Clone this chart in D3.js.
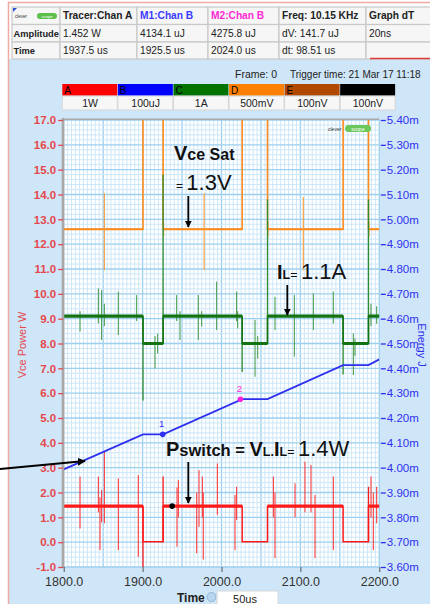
<!DOCTYPE html>
<html><head><meta charset="utf-8">
<script src="https://cdn.jsdelivr.net/npm/d3@7"></script>
<style>body{margin:0;background:#fff}svg{display:block}text{font-family:"Liberation Sans",Arial,sans-serif}</style>
</head><body><svg id="c" width="430" height="604"></svg>
<script>
// ---------------- DATA ----------------
const tableHeader = ["", "Tracer:Chan A", "M1:Chan B", "M2:Chan B", "Freq: 10.15 KHz", "Graph dT"];
const tableAmplitude = ["Amplitude", "1.452 W", "4134.1 uJ", "4275.8 uJ", "dV: 141.7 uJ", "20ns"];
const tableTime = ["Time", "1937.5 us", "1925.5 us", "2024.0 us", "dt:  98.51 us", ""];
const frameText = "Frame: 0";
const triggerText = "Trigger time: 21 Mar 17 11:18";
const channelLetters = ["A", "B", "C", "D", "E", "F"];
const channelScales = ["1W", "100uJ", "1A", "500mV", "100nV", "100nV"];

const timeDomain = [1800, 2200];
const timeTicks = [1800, 1900, 2000, 2100, 2200];
const powerDomain = [-1, 17];
const powerTicks = [-1,0,1,2,3,4,5,6,7,8,9,10,11,12,13,14,15,16,17];
const energyDomain = [3.6, 5.4];
const energyTicks = [3.6,3.7,3.8,3.9,4.0,4.1,4.2,4.3,4.4,4.5,4.6,4.7,4.8,4.9,5.0,5.1,5.2,5.3,5.4];

// switching edges (us)
const switchOff = [1900.5, 2026.2, 2154.1];
const switchOn  = [1926.0, 2058.3, 2186.3];

// levels (left-axis units)
const vceLevels = {on: 12.6, off: 18};
const ilLevels  = {on: 9.1,  off: 8.0};
const powLevels = {on: 1.45, off: 0.02};

// spikes [time, high, low]
const vceSpikes = [[1851.5,14.05,10.95],[1978.0,14.05,10.95],[2103.7,13.9,10.95],[1926.6,12.9,12.3],[2058.9,12.9,12.3],[2186.9,12.9,12.3]];
const ilEdgeSpikes = [[1900.5,9.1,5.7],[1926.0,14.8,8.0],[2026.2,9.1,6.85],[2058.3,13.8,8.0],[2154.1,9.1,6.75],[2186.3,13.8,8.0]];
const ilSpikes = [[1820.7,9.3,8.48],[1843.9,10.22,8.81],[1848.1,10.15,8.14],[1851.5,9.6,8.7],[1869.2,10.09,8.34],[1892.5,9.95,8.9],
  [1915.7,8.3,7.0],[1919.1,8.4,7.6],[1943.2,9.95,8.9],[1947.4,9.3,8.14],[1970.6,9.95,8.14],[1974.9,9.3,8.68],[1993.9,10.49,8.54],
  [2019.2,10.09,8.9],[2020.5,9.3,8.61],[2042.5,8.95,6.66],[2045.9,8.3,7.4],[2067.8,9.88,8.54],[2092.3,9.95,7.47],[2116.4,10.02,8.54],
  [2141.7,10.09,8.81],[2167.1,8.41,6.73],[2169.2,8.2,7.5],[2189.5,9.6,8.7],[2196.7,9.5,8.8]];
const powEdgeSpikes = [[1900.5,1.45,-1.0],[1926.0,2.64,0.02],[2186.3,2.23,0.02]];
const powSpikes = [[1820.7,2.64,0.55],[1843.9,2.64,1.2],[1846.0,1.8,-0.32],[1848.1,2.10,0.8],[1851.5,3.64,0.76],[1869.2,2.57,-0.32],
  [1894.5,2.70,-0.59],[1943.6,2.2,-0.18],[1945.3,2.5,1.0],[1968.6,2.0,-0.45],[1971.5,2.90,0.62],[1975.7,2.64,1.0],[1976.9,2.0,-0.7],
  [1994.7,3.17,1.1],[2017.1,1.9,-0.32],[2019.2,2.23,0.9],[2065.7,2.64,1.0],[2067.8,2.0,-0.64],[2093.2,2.37,1.0],[2105.8,3.24,1.2],
  [2113.4,3.11,1.2],[2118.5,1.9,-0.64],[2141.7,2.64,-0.32],[2189.5,2.64,1.0],[2192.4,2.0,-0.32],[2196.7,2.23,0.76]];

// energy (mJ, right axis)
const energyTime = [1800, 1900.5, 1926.0, 2026.2, 2058.3, 2154.1, 2186.3, 2200];
const energyMJ   = [3.993, 4.134, 4.134, 4.276, 4.276, 4.413, 4.413, 4.436];
const marker1 = {t: 1925.5, v: 4.1341, label: "1"};
const marker2 = {t: 2024.0, v: 4.2758, label: "2"};
const tracer  = {t: 1937.5, v: 1.452};

// ---------------- DRAW ----------------
const svg = d3.select("#c");
const W = 430, H = 604;
const bg = "#cfe6f8";
svg.append("rect").attr("width", W).attr("height", H).attr("fill", "#fff");
svg.append("rect").attr("x", 8).attr("y", 59).attr("width", W - 8).attr("height", H - 59).attr("fill", bg);
svg.append("path").attr("d", "M8.5,604V2.5H430").attr("fill", "none").attr("stroke", "#f0aaa2").attr("stroke-width", 1.5);

// table
const colX = [12, 60, 137, 208, 279, 366, 445];
const rowY = [7, 24.5, 42, 59];
const rows = [tableHeader, tableAmplitude, tableTime];
const headColors = ["#222", "#222", "#3b3bff", "#ff2ad4", "#222", "#222"];
const tg = svg.append("g");
rows.forEach((r, ri) => {
  r.forEach((txt, ci) => {
    tg.append("rect").attr("x", colX[ci]).attr("y", rowY[ri]).attr("width", colX[ci+1] - colX[ci]).attr("height", rowY[ri+1] - rowY[ri])
      .attr("fill", "#f6f6f6").attr("stroke", "#c9c9c9").attr("stroke-width", 1.2);
    if (txt) tg.append("text").attr("x", colX[ci] + (ci === 0 ? 1.5 : 3)).attr("y", (rowY[ri] + rowY[ri+1]) / 2 + 3.6)
      .attr("font-size", ci === 0 ? 9.3 : 10.2).attr("font-weight", (ri === 0 || ci === 0) ? "bold" : "normal")
      .attr("fill", ri === 0 ? headColors[ci] : "#222").text(txt);
  });
});
// logo in first cell
tg.append("text").attr("x", 15).attr("y", 17.5).attr("font-size", 4.5).attr("fill", "#333").text("clever");
tg.append("rect").attr("x", 37).attr("y", 13).attr("width", 20).attr("height", 6).attr("rx", 3).attr("fill", "#5cbf4a");
tg.append("text").attr("x", 47).attr("y", 17.6).attr("font-size", 4.2).attr("fill", "#fff").attr("text-anchor", "middle").text("scope");
tg.append("path").attr("d", "M13,8h4l-4,4z").attr("fill", "#3050d0");
svg.append("line").attr("x1", 370).attr("x2", 430).attr("y1", 58.5).attr("y2", 58.5).attr("stroke", "#e03c3c").attr("stroke-width", 1.4);

// frame text
svg.append("text").attr("x", 235).attr("y", 78).attr("font-size", 10.5).attr("fill", "#222").text(frameText);
svg.append("text").attr("x", 290).attr("y", 78).attr("font-size", 10).attr("fill", "#222").text(triggerText);

// channel bar
const chColors = ["#ff0000", "#0000ff", "#007200", "#ff8000", "#b04800", "#000000"];
const chX0 = 62.3, chW = 55.57;
channelLetters.forEach((l, i) => {
  const bx = chX0 + i * chW;
  svg.append("rect").attr("x", bx).attr("y", 84).attr("width", chW - 0.6).attr("height", 11.7).attr("fill", chColors[i]);
  svg.append("text").attr("x", bx + 2).attr("y", 93.5).attr("font-size", 10).attr("fill", "#000").text(l);
  svg.append("rect").attr("x", bx).attr("y", 96).attr("width", chW - 0.6).attr("height", 14).attr("fill", "#f7f7f7").attr("stroke", "#d6d6d6");
  svg.append("text").attr("x", bx + chW / 2).attr("y", 107).attr("font-size", 10.5).attr("text-anchor", "middle").attr("fill", "#222").text(channelScales[i]);
});

// scales
const px0 = 63.7, px1 = 379.3, py0 = 120, py1 = 567;
const x = d3.scaleLinear(timeDomain, [px0, px1]);
const yL = d3.scaleLinear(powerDomain, [py1, py0]);
const yR = d3.scaleLinear(energyDomain, [py1, py0]);

// plot background + grid
svg.append("rect").attr("x", px0).attr("y", py0).attr("width", px1 - px0).attr("height", py1 - py0).attr("fill", "#fff");
const grid = svg.append("g");
d3.range(timeDomain[0], timeDomain[1] + 0.01, 5).forEach(t => {
  const major = Math.abs(t % 50) < 0.01;
  grid.append("line").attr("x1", x(t)).attr("x2", x(t)).attr("y1", py0).attr("y2", py1)
    .attr("stroke", major ? "#9ccff0" : "#c8e4f7").attr("stroke-width", major ? 1.3 : 0.9);
});
d3.range(0, 90.01, 1).forEach(k => {
  const v = powerDomain[0] + k * 0.2;
  const major = k % 5 === 0;
  grid.append("line").attr("x1", px0).attr("x2", px1).attr("y1", yL(v)).attr("y2", yL(v))
    .attr("stroke", major ? "#9ccff0" : "#c8e4f7").attr("stroke-width", major ? 1.3 : 0.9);
});

// clip
svg.append("clipPath").attr("id", "clip").append("rect").attr("x", px0).attr("y", py0).attr("width", px1 - px0).attr("height", py1 - py0);
const plot = svg.append("g").attr("clip-path", "url(#clip)");

const lineL = d3.line().x(d => x(d[0])).y(d => yL(d[1]));
function stepTrace(lv) {
  const pts = [[timeDomain[0], lv.on]];
  switchOff.forEach((t, i) => { pts.push([t, lv.on], [t, lv.off], [switchOn[i], lv.off], [switchOn[i], lv.on]); });
  pts.push([timeDomain[1], lv.on]);
  return pts;
}
function onIntervals() {
  const iv = []; let s = timeDomain[0];
  switchOff.forEach((t, i) => { iv.push([s, t]); s = switchOn[i]; });
  iv.push([s, timeDomain[1]]); return iv;
}
function offIntervals() { return switchOff.map((t, i) => [t, switchOn[i]]); }
function spikes(g, arr, color, w) {
  g.selectAll(null).data(arr).join("line").attr("x1", d => x(d[0])).attr("x2", d => x(d[0]))
    .attr("y1", d => yL(d[1])).attr("y2", d => yL(d[2])).attr("stroke", color).attr("stroke-width", w);
}
function band(g, ivs, lvl, color, w) {
  g.selectAll(null).data(ivs).join("line").attr("x1", d => x(d[0])).attr("x2", d => x(d[1]))
    .attr("y1", yL(lvl)).attr("y2", yL(lvl)).attr("stroke", color).attr("stroke-width", w);
}

// orange Vce
const gO = plot.append("g");
gO.append("path").attr("d", lineL(stepTrace(vceLevels))).attr("fill", "none").attr("stroke", "#ff8a1c").attr("stroke-width", 1.6);
band(gO, onIntervals(), vceLevels.on, "#ff8a1c", 2.2);
spikes(gO, vceSpikes, "#ff9a35", 1.1);

// green IL
const gG = plot.append("g");
spikes(gG, ilEdgeSpikes, "#2e8b2e", 1.3);
spikes(gG, ilSpikes, "#3f963f", 1);
gG.append("path").attr("d", lineL(stepTrace(ilLevels))).attr("fill", "none").attr("stroke", "#137313").attr("stroke-width", 1.6);
band(gG, onIntervals(), ilLevels.on, "#137313", 3.2);
band(gG, offIntervals(), ilLevels.off, "#137313", 3.2);

// red power
const gR = plot.append("g");
spikes(gR, powEdgeSpikes, "#ff1a1a", 1.3);
spikes(gR, powSpikes, "#ff2a2a", 1);
gR.append("path").attr("d", lineL(stepTrace(powLevels))).attr("fill", "none").attr("stroke", "#ff1a1a").attr("stroke-width", 1.5);
band(gR, onIntervals(), powLevels.on, "#ff1a1a", 3.4);

// blue energy
const lineR = d3.line().x(d => x(d[0])).y(d => yR(d[1]));
plot.append("path").attr("d", lineR(energyTime.map((t, i) => [t, energyMJ[i]]))).attr("fill", "none").attr("stroke", "#2f2ff0").attr("stroke-width", 1.8);
[[marker1, "#2f2ff0"], [marker2, "#ff22dd"]].forEach(([m, c]) => {
  plot.append("circle").attr("cx", x(m.t)).attr("cy", yR(m.v)).attr("r", 2.8).attr("fill", c);
  plot.append("text").attr("x", x(m.t) - 1).attr("y", yR(m.v) - 7).attr("font-size", 9.5).attr("text-anchor", "middle").attr("fill", c).text(m.label);
});
plot.append("circle").attr("cx", x(tracer.t)).attr("cy", yL(tracer.v)).attr("r", 2.8).attr("fill", "#000");

// logo in plot
plot.append("rect").attr("x", 345).attr("y", 125).attr("width", 26).attr("height", 7).attr("rx", 3.5).attr("fill", "#6cc85a");
plot.append("text").attr("x", 328).attr("y", 131).attr("font-size", 5).attr("fill", "#333").text("clever");
plot.append("text").attr("x", 358).attr("y", 130.8).attr("font-size", 5).attr("text-anchor", "middle").attr("fill", "#fff").text("scope");

// frame lines
svg.append("line").attr("x1", 63).attr("x2", 63).attr("y1", 118).attr("y2", 568).attr("stroke", "#a8a8a8").attr("stroke-width", 2.6);
svg.append("line").attr("x1", 63).attr("x2", px1).attr("y1", 119.3).attr("y2", 119.3).attr("stroke", "#a8a8a8").attr("stroke-width", 1.6);

// axes
const axL = svg.append("g").attr("transform", `translate(${px0 - 0.5},0)`)
  .call(d3.axisLeft(yL).tickValues(powerTicks).tickFormat(d => d.toFixed(1)).tickSize(5).tickPadding(2));
axL.select(".domain").remove();
axL.selectAll("line").attr("stroke", "#e5484d").attr("stroke-width", 1.3);
axL.selectAll("text").attr("fill", "#e5484d").attr("font-size", 11.5).attr("font-weight", "bold").attr("font-family", "Liberation Sans, Arial, sans-serif");

const axR = svg.append("g").attr("transform", `translate(${px1 + 1.5},0)`)
  .call(d3.axisRight(yR).tickValues(energyTicks).tickFormat(d => d.toFixed(2) + "m").tickSize(5).tickPadding(1));
axR.select(".domain").remove();
axR.selectAll("line").attr("stroke", "#2f2ff0").attr("stroke-width", 1.3);
axR.selectAll("text").attr("fill", "#2f2ff0").attr("font-size", 11.5).attr("font-family", "Liberation Sans, Arial, sans-serif");

const axB = svg.append("g").attr("transform", `translate(0,${py1})`)
  .call(d3.axisBottom(x).tickValues(timeTicks).tickFormat(d => d.toFixed(1)).tickSize(5).tickPadding(5));
axB.select(".domain").remove();
axB.selectAll("line").attr("stroke", "#555");
axB.selectAll("text").attr("fill", "#333").attr("font-size", 12.5).attr("font-family", "Liberation Sans, Arial, sans-serif");

// axis titles
svg.append("text").attr("transform", "translate(26,345) rotate(-90)").attr("text-anchor", "middle").attr("font-size", 11).attr("fill", "#e5484d").text("Vce Power W");
svg.append("text").attr("transform", "translate(418,345) rotate(90)").attr("text-anchor", "middle").attr("font-size", 11).attr("fill", "#2f2ff0").text("Energy J");

// time control
svg.append("text").attr("x", 177).attr("y", 602).attr("font-size", 12).attr("font-weight", "bold").attr("fill", "#222").text("Time");
svg.append("circle").attr("cx", 211.5).attr("cy", 597).attr("r", 4.5).attr("fill", "#b9d6ef").attr("stroke", "#8fb4d6");
svg.append("rect").attr("x", 217).attr("y", 591).attr("width", 61).attr("height", 14).attr("fill", "#fff").attr("stroke", "#d8d8d8");
svg.append("text").attr("x", 245).attr("y", 603).attr("font-size", 11).attr("text-anchor", "middle").attr("fill", "#222").text("50us");

// annotations
const defs = svg.append("defs");
defs.append("marker").attr("id", "ah").attr("viewBox", "0 0 10 10").attr("refX", 9).attr("refY", 5)
  .attr("markerWidth", 4).attr("markerHeight", 4).attr("orient", "auto")
  .append("path").attr("d", "M0,0L10,5L0,10z").attr("fill", "#000");
const ann = svg.append("g").attr("fill", "#111");
function arrow(x1, y1, x2, y2, w) {
  ann.append("line").attr("x1", x1).attr("y1", y1).attr("x2", x2).attr("y2", y2).attr("stroke", "#000").attr("stroke-width", w).attr("marker-end", "url(#ah)");
}
function rich(xx, yy, parts) {
  const t = ann.append("text").attr("x", xx).attr("y", yy);
  parts.forEach(p => t.append("tspan").attr("font-size", p[1]).attr("font-weight", p[2] ? "bold" : "normal").text(p[0]));
}
rich(174, 160, [["V", 20, 1], ["ce Sat", 16, 1]]);
rich(176, 190, [["= ", 12, 0], ["1.3V", 22, 0]]);
arrow(188.3, 196, 188.3, 227, 1.8);
rich(277, 279, [["I", 20, 1], ["L", 12.5, 1], ["= ", 12.5, 0], ["1.1A", 22, 0]]);
arrow(287.3, 285, 287.3, 315, 1.8);
rich(166, 456, [["P", 20, 1], ["switch", 16.5, 1], [" = ", 16.5, 1], ["V", 20, 1], ["L.", 12.5, 1], ["I", 20, 1], ["L", 12.5, 1], ["= ", 12.5, 0], ["1.4W", 22, 0]]);
arrow(188.3, 462, 188.3, 503, 1.8);
arrow(0, 469, 85, 461, 2);
</script></body></html>
